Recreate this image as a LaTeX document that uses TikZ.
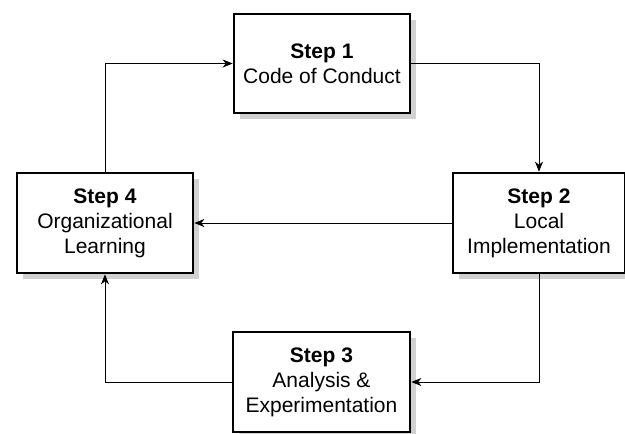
\documentclass[tikz,border=0pt]{standalone}
\usepackage{fontspec}
\setmainfont{Liberation Sans}
\usetikzlibrary{arrows.meta,shadows}
\begin{document}
\begin{tikzpicture}[x=1pt,y=-1pt,
  stepbox/.style={draw=black, line width=2.6pt, fill=white, align=center,
    inner sep=0pt, font=\fontsize{21}{25}\selectfont,
    drop shadow={shadow xshift=6pt, shadow yshift=-6pt, fill=black!18, opacity=1}},
  flow/.style={line width=0.9pt, -{Stealth[length=10pt,width=8pt,inset=3pt]}}]
  \useasboundingbox (0,0) rectangle (625,434);
  \node[stepbox, minimum width=176pt, minimum height=99pt] (s1) at (322,63.5)
    {\textbf{Step 1}\\Code of Conduct};
  \node[stepbox, minimum width=172pt, minimum height=100pt] (s2) at (539,223)
    {\textbf{Step 2}\\Local\\Implementation};
  \node[stepbox, minimum width=177pt, minimum height=100pt] (s3) at (321.5,382)
    {\textbf{Step 3}\\Analysis \&\\Experimentation};
  \node[stepbox, minimum width=176pt, minimum height=100pt] (s4) at (105,223)
    {\textbf{Step 4}\\Organizational\\Learning};
  \draw[flow] (s1.east) -| (s2.north);
  \draw[flow] (s2.west) -- (s4.east);
  \draw[flow] (s2.south) |- (s3.east);
  \draw[flow] (s3.west) -| (s4.south);
  \draw[flow] (s4.north) |- (s1.west);
\end{tikzpicture}
\end{document}
